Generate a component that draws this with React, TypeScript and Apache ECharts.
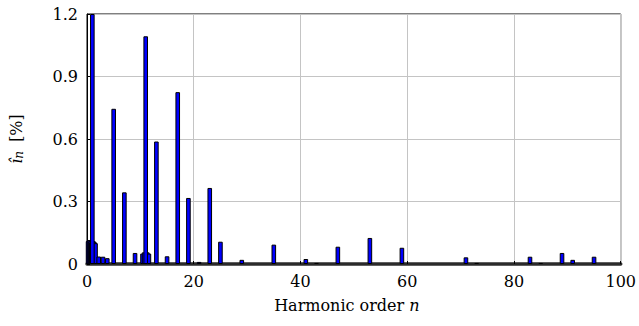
import React, { useEffect, useRef } from "react";
import * as echarts from "echarts";

const harmonicOrders = [1, 5, 7, 9, 11, 13, 15, 17, 19, 21, 23, 25, 29, 35, 41, 43, 47, 53, 59, 71, 73, 83, 85, 89, 91, 95];
const harmonicValues = [1.2, 0.745, 0.344, 0.053, 1.093, 0.588, 0.037, 0.825, 0.317, 0.01, 0.365, 0.107, 0.02, 0.093, 0.024, 0.005, 0.083, 0.125, 0.078, 0.032, 0.005, 0.035, 0.005, 0.053, 0.02, 0.035];
const interOrders = [0.2, 0.4, 0.6, 0.8, 1.2, 1.4, 1.6, 2.2, 3, 3.8, 10.4, 10.7, 11.3, 11.6];
const interValues = [0.11, 0.115, 0.11, 0.105, 0.11, 0.105, 0.1, 0.036, 0.035, 0.028, 0.05, 0.056, 0.056, 0.05];
const yTickLabels = ["0", "0.3", "0.6", "0.9", "1.2"];
const xTickValues = [0, 20, 40, 60, 80, 100];

const FONT = "DejaVu Serif";
const SIZE = 16;

export default function App() {
  const ref = useRef<HTMLDivElement>(null);
  useEffect(() => {
    if (!ref.current) return;
    const chart = echarts.init(ref.current, undefined, { renderer: "svg" });
    const data: [number, number][] = [];
    interOrders.forEach((x, i) => data.push([x, interValues[i]]));
    harmonicOrders.forEach((x, i) => data.push([x, harmonicValues[i]]));
    chart.setOption({
      animation: false,
      textStyle: { fontFamily: FONT },
      grid: {
        left: 87,
        right: 17,
        top: 14,
        bottom: 62,
        show: true,
        borderColor: "#000",
        borderWidth: 1,
        backgroundColor: "transparent",
      },
      xAxis: {
        type: "value",
        min: 0,
        max: 100,
        interval: 20,
        name: "Harmonic order {it|n}",
        nameLocation: "middle",
        nameGap: 33,
        nameTextStyle: {
          fontFamily: FONT,
          fontSize: SIZE,
          color: "#000",
          padding: [0, 14, 0, 0],
          rich: { it: { fontFamily: FONT, fontSize: SIZE, fontStyle: "italic", color: "#000" } },
        },
        axisLine: { show: true, lineStyle: { color: "#2b2b2b", width: 3.5 } },
        axisTick: { show: true, inside: true, length: 3, lineStyle: { color: "#000" } },
        axisLabel: {
          fontFamily: FONT,
          fontSize: SIZE,
          color: "#000",
          margin: 9,
          formatter: (v: number) => (xTickValues.includes(v) ? String(v) : ""),
        },
        splitLine: { show: true, lineStyle: { color: "#c4c4c4", width: 1 } },
      },
      yAxis: {
        type: "value",
        min: 0,
        max: 1.2,
        interval: 0.3,
        name: "{it|î}{sub|n} [%]",
        nameLocation: "middle",
        nameGap: 62,
        nameRotate: 90,
        nameTextStyle: {
          fontFamily: FONT,
          fontSize: SIZE,
          color: "#000",
          rich: {
            it: { fontFamily: FONT, fontSize: SIZE, fontStyle: "italic", color: "#000" },
            sub: { fontFamily: FONT, fontSize: 12, fontStyle: "italic", color: "#000", verticalAlign: "bottom", padding: [6, 4, 0, 0] },
          },
        },
        axisLine: { show: true, lineStyle: { color: "#000", width: 1 } },
        axisTick: { show: true, inside: true, length: 3, lineStyle: { color: "#000" } },
        axisLabel: {
          fontFamily: FONT,
          fontSize: SIZE,
          color: "#000",
          margin: 9,
          formatter: (v: number) => yTickLabels[Math.round(v / 0.3)] ?? "",
        },
        splitLine: { show: true, lineStyle: { color: "#c4c4c4", width: 1 } },
      },
      series: [
        {
          type: "bar",
          data,
          barWidth: 4.6,
          itemStyle: { color: "#0000ff", borderColor: "#000", borderWidth: 1 },
          clip: true,
        },
      ],
    });
    return () => chart.dispose();
  }, []);
  return <div ref={ref} style={{ position: "absolute", left: 0, top: 0, width: 639, height: 326 }} />;
}
